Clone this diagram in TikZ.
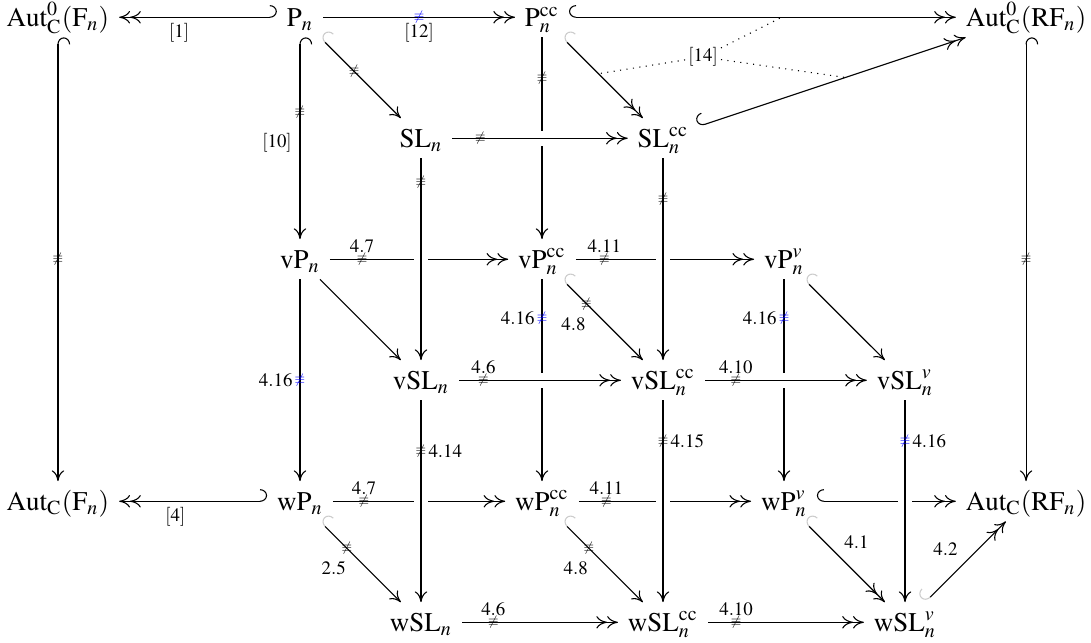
\documentclass[tikz,border=0pt]{standalone}
\usepackage{mathptmx}
\usetikzlibrary{arrows.meta}
\tikzset{
  >={Computer Modern Rightarrow[length=4pt,width=4.6pt]},
  hl/.tip={Hooks[right,length=2.6pt,width=9pt]},
  hr/.tip={Hooks[left,length=2.6pt,width=9pt]},
  fl/.tip={Hooks[right,length=2.6pt,width=9pt,color=gray!40]},
  cell/.style={anchor=base,inner xsep=3.5pt,inner ysep=2.5pt,text height=8pt,text depth=1.5pt},
  mk/.style={font=\tiny,inner sep=0pt},
  bmk/.style={mk,text=blue},
  lb/.style={font=\scriptsize,inner sep=1pt},
  over/.style={preaction={draw,white,line width=5.5pt,-}}
}
\begin{document}
\begin{tikzpicture}[x=1.575cm,y=1.575cm]
  \useasboundingbox (-0.479,0.215) rectangle (8.537,-5.091);
  % groups
  \node[cell] (A0F) at (0,0) {$\mathrm{Aut}^0_{\mathrm{C}}(\mathrm{F}_n)$};
  \node[cell] (Pn) at (2,0) {$\mathrm{P}_n$};
  \node[cell] (Pcc) at (4,0) {$\mathrm{P}_n^{\mathrm{cc}}$};
  \node[cell] (A0R) at (8,0) {$\mathrm{Aut}^0_{\mathrm{C}}(\mathrm{RF}_n)$};
  \node[cell] (SL) at (3,-1) {$\mathrm{SL}_n$};
  \node[cell] (SLcc) at (5,-1) {$\mathrm{SL}_n^{\mathrm{cc}}$};
  \node[cell] (vP) at (2,-2) {$\mathrm{vP}_n$};
  \node[cell] (vPcc) at (4,-2) {$\mathrm{vP}_n^{\mathrm{cc}}$};
  \node[cell] (vPv) at (6,-2) {$\mathrm{vP}_n^v$};
  \node[cell] (vSL) at (3,-3) {$\mathrm{vSL}_n$};
  \node[cell] (vSLcc) at (5,-3) {$\mathrm{vSL}_n^{\mathrm{cc}}$};
  \node[cell] (vSLv) at (7,-3) {$\mathrm{vSL}_n^v$};
  \node[cell] (AF) at (0,-4) {$\mathrm{Aut}_{\mathrm{C}}(\mathrm{F}_n)$};
  \node[cell] (wP) at (2,-4) {$\mathrm{wP}_n$};
  \node[cell] (wPcc) at (4,-4) {$\mathrm{wP}_n^{\mathrm{cc}}$};
  \node[cell] (wPv) at (6,-4) {$\mathrm{wP}_n^v$};
  \node[cell] (AR) at (8,-4) {$\mathrm{Aut}_{\mathrm{C}}(\mathrm{RF}_n)$};
  \node[cell] (wSL) at (3,-5) {$\mathrm{wSL}_n$};
  \node[cell] (wSLcc) at (5,-5) {$\mathrm{wSL}_n^{\mathrm{cc}}$};
  \node[cell] (wSLv) at (7,-5) {$\mathrm{wSL}_n^v$};
  % arrows passing under
  \draw[->] (Pcc) -- node[mk,pos=.2]{$\not\equiv$} (vPcc);
  \draw[->>] (vP) -- node[mk,pos=.18]{$\not\equiv$} node[lb,pos=.18,yshift=4.8pt]{$4.7$} (vPcc);
  \draw[->>] (vPcc) -- node[mk,pos=.16]{$\not\equiv$} node[lb,pos=.16,yshift=4.8pt]{$4.11$} (vPv);
  \draw[->] (vPcc) -- node[bmk,pos=.19]{$\not\equiv$} node[lb,pos=.19,xshift=-9pt]{$4.16$} (wPcc);
  \draw[->] (vPv) -- node[bmk,pos=.19]{$\not\equiv$} node[lb,pos=.19,xshift=-9pt]{$4.16$} (wPv);
  \draw[->>] (wP) -- node[mk,pos=.18]{$\not\equiv$} node[lb,pos=.18,yshift=4.8pt]{$4.7$} (wPcc);
  \draw[->>] (wPcc) -- node[mk,pos=.16]{$\not\equiv$} node[lb,pos=.16,yshift=4.8pt]{$4.11$} (wPv);
  \draw[hl->>] (wPv) -- (AR);
  % arrows passing over
  \draw[->>,over] (SL) -- node[mk,pos=.16]{$\not\equiv$} (SLcc);
  \draw[->,over] (SL) -- node[mk,pos=.12]{$\not\equiv$} (vSL);
  \draw[->,over] (SLcc) -- node[mk,pos=.2]{$\not\equiv$} (vSLcc);
  \draw[->>,over] (vSL) -- node[mk,pos=.15]{$\not\equiv$} node[lb,pos=.15,yshift=4.8pt]{$4.6$} (vSLcc);
  \draw[->>,over] (vSLcc) -- node[mk,pos=.19]{$\not\equiv$} node[lb,pos=.19,yshift=4.8pt]{$4.10$} (vSLv);
  \draw[->,over] (vSL) -- node[mk,pos=.25]{$\not\equiv$} node[lb,pos=.25,xshift=9pt]{$4.14$} (wSL);
  \draw[->,over] (vSLcc) -- node[mk,pos=.2]{$\not\equiv$} node[lb,pos=.2,xshift=9pt]{$4.15$} (wSLcc);
  \draw[->,over] (vSLv) -- node[bmk,pos=.2]{$\not\equiv$} node[lb,pos=.2,xshift=9pt]{$4.16$} (wSLv);
  % the others
  \draw[hr->>] (Pn) -- node[lb,pos=.62,yshift=-5.9pt]{$[1]$} (A0F);
  \draw[->>] (Pn) -- node[bmk]{$\not\equiv$} node[lb,yshift=-5.9pt]{$[12]$} (Pcc);
  \draw[hl->>] (Pcc) -- coordinate[pos=.55] (t1) (A0R);
  \draw[hl->] (A0F) -- node[mk]{$\not\equiv$} (AF);
  \draw[hl->] (Pn) -- node[mk,pos=.37]{$\not\equiv$} node[lb,pos=.52,xshift=-8.5pt]{$[10]$} (vP);
  \draw[hl->] (A0R) -- node[mk]{$\not\equiv$} (AR);
  \draw[->] (vP) -- node[bmk]{$\not\equiv$} node[lb,xshift=-9pt]{$4.16$} (wP);
  \draw[hr->>] (wP) -- node[lb,pos=.62,yshift=-5.9pt]{$[4]$} (AF);
  \draw[fl->] (Pn) -- node[mk,pos=.42]{$\not\equiv$} (SL);
  \draw[fl->>] (Pcc) -- coordinate[pos=.45] (t2) (SLcc);
  \draw[hl->>] (SLcc) -- coordinate[pos=.55] (t3) (A0R);
  \draw[->] (vP) -- (vSL);
  \draw[fl->] (vPcc) -- node[mk,pos=.3]{$\not\equiv$} node[lb,pos=.3,xshift=-4.8pt,yshift=-7.6pt]{$4.8$} (vSLcc);
  \draw[fl->] (vPv) -- (vSLv);
  \draw[fl->] (wP) -- node[mk,pos=.33]{$\not\equiv$} node[lb,pos=.33,xshift=-4.8pt,yshift=-7.4pt]{$2.5$} (wSL);
  \draw[fl->] (wPcc) -- node[mk,pos=.33]{$\not\equiv$} node[lb,pos=.33,xshift=-4.8pt,yshift=-7.4pt]{$4.8$} (wSLcc);
  \draw[fl->>] (wPv) -- node[lb,pos=.5,xshift=4.4pt,yshift=7.2pt]{$4.1$} (wSLv);
  \draw[fl->>] (wSLv) -- node[lb,pos=.5,xshift=-7.4pt,yshift=4.8pt]{$4.2$} (AR);
  \draw[->>] (wSL) -- node[mk,pos=.2]{$\not\equiv$} node[lb,pos=.2,yshift=4.8pt]{$4.6$} (wSLcc);
  \draw[->>] (wSLcc) -- node[mk,pos=.18]{$\not\equiv$} node[lb,pos=.18,yshift=4.8pt]{$4.10$} (wSLv);
  % reference [14]
  \node[lb] (L14) at (5.331,-0.256) {$[14]$};
  \draw[dotted] (L14) -- (t1);
  \draw[dotted] (L14) -- (t2);
  \draw[dotted] (L14) -- (t3);
\end{tikzpicture}
\end{document}
